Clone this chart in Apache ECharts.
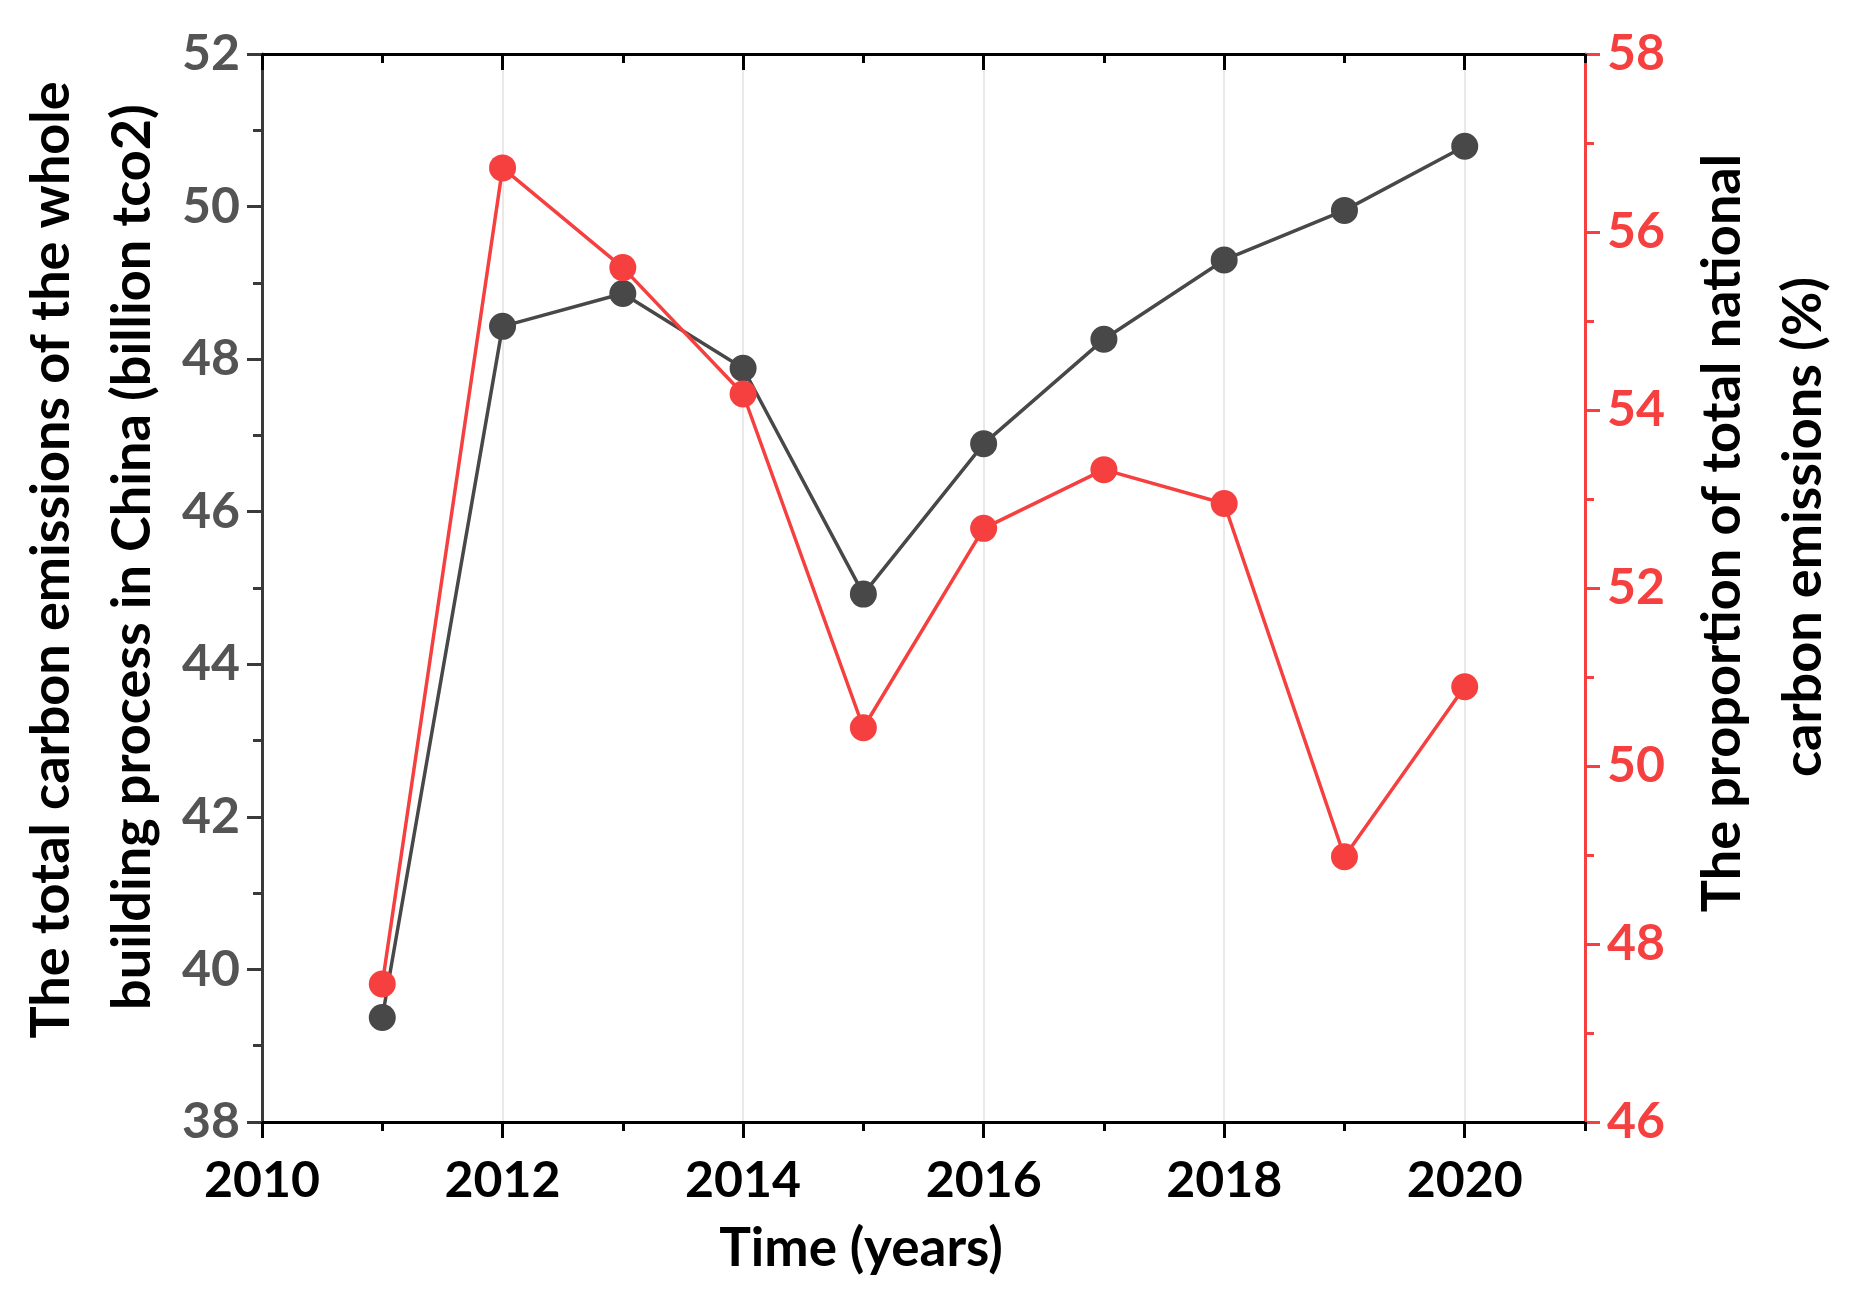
<!DOCTYPE html>
<html>
<head>
<meta charset="utf-8">
<script src="https://cdn.jsdelivr.net/npm/echarts@6/dist/echarts.min.js"></script>
<style>
html,body{margin:0;padding:0;background:#fff;}
#chart{width:1857px;height:1296px;}
</style>
</head>
<body>
<div id="chart"></div>
<script>
// ---- data ----
var years = [2011, 2012, 2013, 2014, 2015, 2016, 2017, 2018, 2019, 2020];
var totalEmissions = [39.37, 48.43, 48.86, 47.88, 44.92, 46.89, 48.26, 49.30, 49.95, 50.79];
var proportion = [47.55, 56.72, 55.60, 54.18, 50.43, 52.67, 53.33, 52.95, 48.98, 50.89];
var xMajorTicks = [2010, 2012, 2014, 2016, 2018, 2020];
var xMinorTicks = [2011, 2013, 2015, 2017, 2019, 2021];
var xTitle = 'Time (years)';
var leftTitle = ['The total carbon emissions of the whole', 'building process in China (billion tco2)'];
var rightTitle = ['The proportion of total national', 'carbon emissions (%)'];

var DARK = '#484848';
var RED = '#f5403f';
var FONT = 'Lato';

function pairs(xs, ys) { return xs.map(function (x, i) { return [x, ys[i]]; }); }

var chart = echarts.init(document.getElementById('chart'), null, {renderer: 'canvas'});

function xAxisDef(pos, ticks, len, inside, withLabels, withSplit) {
  return {
    type: 'value', position: pos, min: 2010, max: 2021,
    axisLine: {show: true, onZero: false, lineStyle: {color: '#000', width: 3}},
    axisTick: {show: true, inside: inside, length: len, customValues: ticks, lineStyle: {color: '#000', width: 3}},
    axisLabel: withLabels ? {show: true, customValues: ticks, margin: 34, color: '#000',
      fontFamily: FONT, fontWeight: 'bold', fontSize: 50,
      formatter: function (v) { return String(Math.round(v)); }} : {show: false},
    splitLine: {show: withSplit, lineStyle: {color: '#e2e2e2', width: 1.5}},
    minorTick: {show: false}
  };
}

var option = {
  backgroundColor: '#fff',
  animation: false,
  grid: {left: 262, right: 272, top: 54, bottom: 174, containLabel: false},
  xAxis: [
    xAxisDef('bottom', xMajorTicks, 16, false, true, true),
    xAxisDef('bottom', xMinorTicks, 9, false, false, false),
    xAxisDef('top', xMajorTicks, 16, true, false, false),
    xAxisDef('top', xMinorTicks, 9, true, false, false)
  ],
  yAxis: [
    {
      type: 'value', position: 'left', min: 38, max: 52, interval: 2,
      axisLine: {show: true, lineStyle: {color: '#3a3a3a', width: 3}},
      axisTick: {show: true, inside: false, length: 15, lineStyle: {color: '#3a3a3a', width: 3}},
      minorTick: {show: true, splitNumber: 2, length: 9, lineStyle: {color: '#3a3a3a', width: 3}},
      axisLabel: {margin: 22, color: '#545454', fontFamily: FONT, fontWeight: 'bold', fontSize: 50},
      splitLine: {show: false}
    },
    {
      type: 'value', position: 'right', min: 46, max: 58, interval: 2,
      axisLine: {show: true, lineStyle: {color: RED, width: 3}},
      axisTick: {show: true, inside: false, length: 15, lineStyle: {color: RED, width: 3}},
      minorTick: {show: true, splitNumber: 2, length: 9, lineStyle: {color: RED, width: 3}},
      axisLabel: {margin: 22, color: RED, fontFamily: FONT, fontWeight: 'bold', fontSize: 50},
      splitLine: {show: false}
    }
  ],
  series: [
    {
      name: 'Total carbon emissions', type: 'line', xAxisIndex: 0, yAxisIndex: 0,
      data: pairs(years, totalEmissions),
      symbol: 'circle', symbolSize: 27,
      lineStyle: {color: DARK, width: 3.5},
      itemStyle: {color: DARK},
      z: 3
    },
    {
      name: 'Proportion', type: 'line', xAxisIndex: 0, yAxisIndex: 1,
      data: pairs(years, proportion),
      symbol: 'circle', symbolSize: 27,
      lineStyle: {color: RED, width: 3.5},
      itemStyle: {color: RED},
      z: 4
    }
  ],
  graphic: [
    {type: 'text', x: 861, y: 1249, style: {text: xTitle, font: 'bold 53px ' + FONT, fill: '#000', align: 'center', verticalAlign: 'middle'}},
    {type: 'text', x: 52, y: 560, rotation: Math.PI / 2, style: {text: leftTitle[0], font: 'bold 54px ' + FONT, fill: '#000', align: 'center', verticalAlign: 'middle'}},
    {type: 'text', x: 133, y: 557, rotation: Math.PI / 2, style: {text: leftTitle[1], font: 'bold 54px ' + FONT, fill: '#000', align: 'center', verticalAlign: 'middle'}},
    {type: 'text', x: 1723, y: 533, rotation: Math.PI / 2, style: {text: rightTitle[0], font: 'bold 54px ' + FONT, fill: '#000', align: 'center', verticalAlign: 'middle'}},
    {type: 'text', x: 1804, y: 527, rotation: Math.PI / 2, style: {text: rightTitle[1], font: 'bold 54px ' + FONT, fill: '#000', align: 'center', verticalAlign: 'middle'}}
  ]
};
chart.setOption(option);
</script>
</body>
</html>
